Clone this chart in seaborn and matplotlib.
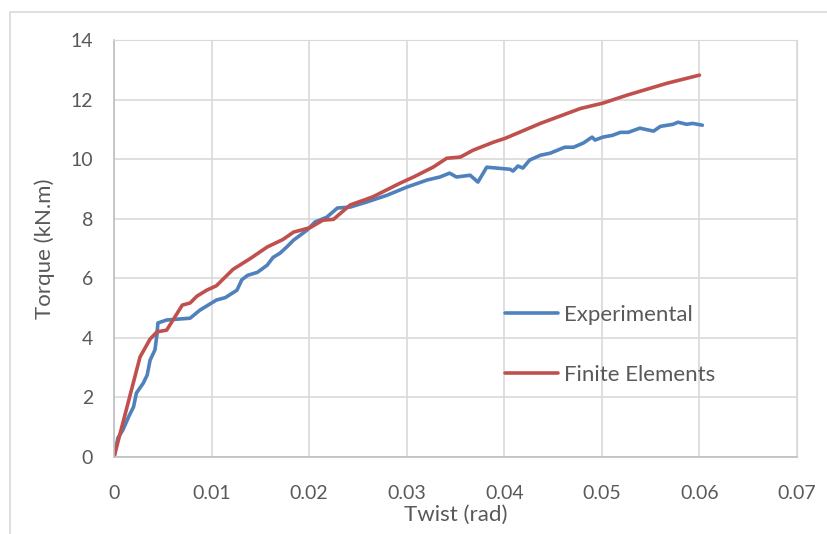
import matplotlib
matplotlib.use("Agg")
import matplotlib.pyplot as plt
import seaborn as sns
import pandas as pd
from matplotlib.patches import Rectangle

# Experimental curve (twist rad, torque kN.m)
exp_twist = [0, 0.0002, 0.0004, 0.0009, 0.0015, 0.002, 0.0023, 0.003, 0.0034, 0.0037,
             0.0042, 0.0044, 0.0045, 0.0054, 0.0078, 0.0088, 0.0105, 0.0114, 0.0126,
             0.0131, 0.0137, 0.0147, 0.0157, 0.0163, 0.017, 0.0177, 0.0184, 0.0198,
             0.0206, 0.0218, 0.0229, 0.0242, 0.0259,
             0.028, 0.03, 0.0321, 0.0334, 0.0344, 0.0351, 0.0365, 0.0373, 0.0382,
             0.0406, 0.0409, 0.0414, 0.0419, 0.0426, 0.0437, 0.0447, 0.0462, 0.0471,
             0.0481, 0.049, 0.0493, 0.0501, 0.0511, 0.0519, 0.0527, 0.0539, 0.0553,
             0.056, 0.0573, 0.0578, 0.0587, 0.0593, 0.0603]
exp_torque = [0, 0.3, 0.64, 0.9, 1.35, 1.68, 2.15, 2.48, 2.75, 3.25,
              3.6, 4.1, 4.5, 4.6, 4.66, 4.93, 5.27, 5.35, 5.6,
              5.95, 6.1, 6.2, 6.44, 6.7, 6.84, 7.05, 7.28, 7.62,
              7.89, 8.05, 8.36, 8.39, 8.56,
              8.79, 9.06, 9.3, 9.4, 9.53, 9.4, 9.46, 9.23, 9.73,
              9.66, 9.6, 9.77, 9.7, 9.97, 10.13, 10.2, 10.4, 10.4,
              10.54, 10.74, 10.64, 10.74, 10.8, 10.9, 10.9, 11.04, 10.94,
              11.1, 11.17, 11.24, 11.17, 11.2, 11.14]

# Finite element curve
fe_twist = [0, 0.00267, 0.0037, 0.0044, 0.0054, 0.007, 0.0078, 0.0085, 0.0095,
            0.0105, 0.0122, 0.0140, 0.0157, 0.0173, 0.0184, 0.0201, 0.0214, 0.0225,
            0.0242, 0.0265, 0.0293, 0.0307, 0.0327, 0.0341, 0.0355, 0.0368, 0.0389,
            0.0401, 0.0437, 0.0478, 0.0501, 0.0526, 0.0567, 0.060]
fe_torque = [0, 3.36, 3.96, 4.2, 4.26, 5.1, 5.17, 5.4, 5.6,
             5.75, 6.3, 6.67, 7.05, 7.3, 7.55, 7.7, 7.95, 7.98,
             8.46, 8.73, 9.19, 9.4, 9.73, 10.03, 10.07, 10.3, 10.57,
             10.7, 11.2, 11.7, 11.88, 12.15, 12.55, 12.82]

df = pd.concat([
    pd.DataFrame({"twist": exp_twist, "torque": exp_torque, "series": "Experimental"}),
    pd.DataFrame({"twist": fe_twist, "torque": fe_torque, "series": "Finite Elements"}),
])

sns.set_style("white")
plt.rcParams["font.family"] = ["Lato", "DejaVu Sans"]

fig = plt.figure(figsize=(8.27, 5.34), dpi=100)
ax = fig.add_axes([114 / 827, 1 - 457 / 534, (797 - 114) / 827, (457 - 40) / 534])

# light frame around the chart area
fig.patches.append(Rectangle((10 / 827, -0.1), 1.1, 1 - 12 / 534 + 0.1,
                             transform=fig.transFigure, fill=False,
                             edgecolor="#d9d9d9", linewidth=1.2))

sns.lineplot(data=df, x="twist", y="torque", hue="series", sort=False,
             palette=["#4f81bd", "#c0504d"], linewidth=2.6, ax=ax, estimator=None)

ax.set_xlim(0, 0.07)
ax.set_ylim(0, 14)
ax.set_xticks([0, 0.01, 0.02, 0.03, 0.04, 0.05, 0.06, 0.07])
ax.set_xticklabels(["0", "0.01", "0.02", "0.03", "0.04", "0.05", "0.06", "0.07"])
ax.set_yticks(range(0, 15, 2))
ax.grid(True, color="#d9d9d9", linewidth=1.2)
ax.set_axisbelow(True)
for side in ["top", "right"]:
    ax.spines[side].set_color("#d9d9d9")
for side in ["left", "bottom"]:
    ax.spines[side].set_color("#bfbfbf")
    ax.spines[side].set_linewidth(1.2)
ax.tick_params(axis="both", length=0, labelsize=14, colors="#595959")
ax.tick_params(axis="x", pad=20)
ax.tick_params(axis="y", pad=15)
ax.set_xlabel("Twist (rad)", fontsize=16, color="#595959")
ax.set_ylabel("Torque (kN.m)", fontsize=16, color="#595959")
ax.xaxis.set_label_coords(0.5, (457 - 505) / 417)
ax.yaxis.set_label_coords((55 - 114) / 683, 0.5)

leg = ax.legend(loc="center left", bbox_to_anchor=(0.5725, 0.269), frameon=False,
                fontsize=16, labelspacing=1.8, handlelength=2.4, handletextpad=0.25,
                borderpad=0, borderaxespad=0)
for t in leg.get_texts():
    t.set_color("#595959")

fig.savefig("out.png", dpi=100)
